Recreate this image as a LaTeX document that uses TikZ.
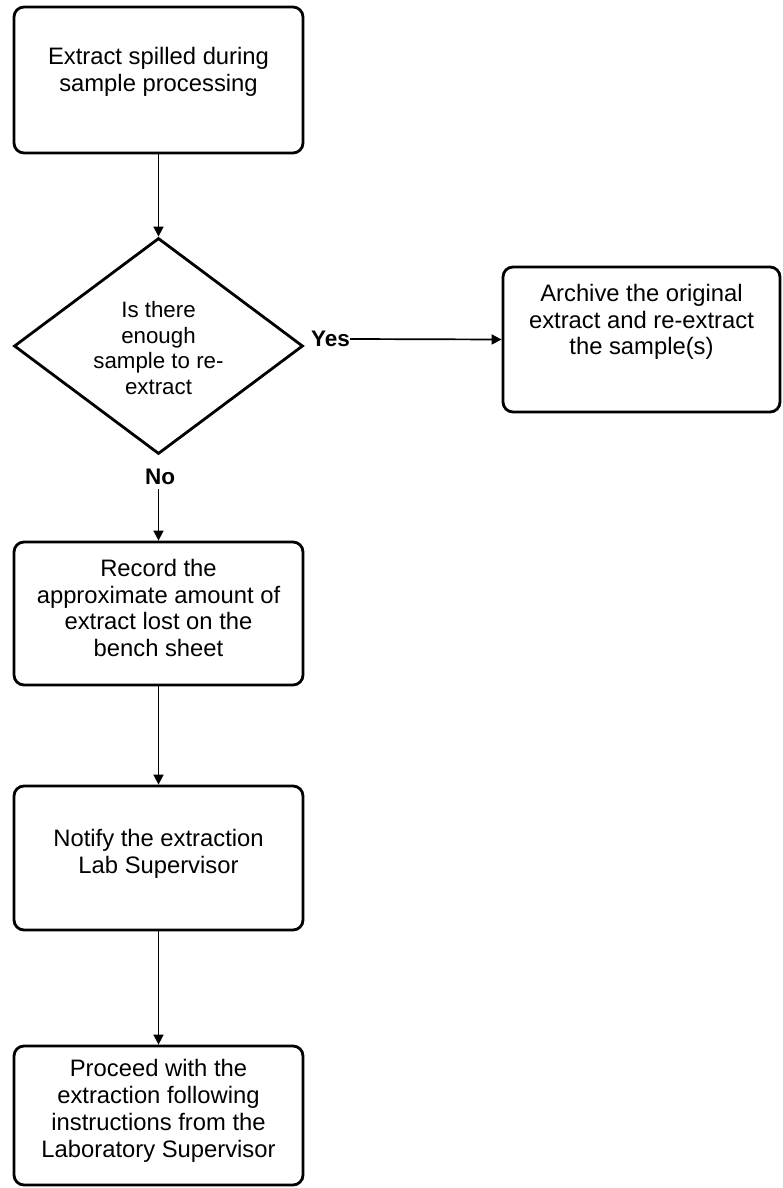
\documentclass[tikz,border=0pt]{standalone}
\usepackage{fontspec}
\setmainfont{Liberation Sans}
\usetikzlibrary{arrows.meta,shapes.geometric}
\begin{document}
\begin{tikzpicture}[x=1pt,y=-1pt,
  stepbox/.style={draw, line width=2.8pt, rounded corners=10pt, inner sep=0pt},
  steptext/.style={align=center, inner sep=0pt, font=\fontsize{23.8}{26.8}\selectfont},
  decision/.style={draw, diamond, line width=2.8pt, inner sep=0pt,
    minimum width=289pt, minimum height=216pt},
  flow/.style={line width=1.7pt, -{Triangle[length=10pt,width=10pt]}},
  answer/.style={font=\fontsize{22.5}{26}\selectfont\bfseries}]

% page frame
\useasboundingbox (0,0) rectangle (782,1188);

% process boxes
\node[stepbox, minimum width=289pt, minimum height=146pt] (spill) at (158.5,80) {};
\node[steptext] (spilltxt) at (158.5,71.5) {Extract spilled during\\sample processing};

\node[decision] (enough) at (158.5,346) {};
\node[steptext, font=\fontsize{22.3}{25.5}\selectfont] (enoughtxt) at (158.5,348)
  {Is there\\enough\\sample to re-\\extract};

\node[stepbox, minimum width=277pt, minimum height=145pt] (archive) at (641.5,339.5) {};
\node[steptext] (archivetxt) at (641.5,322)
  {Archive the original\\extract and re-extract\\the sample(s)};

\node[stepbox, minimum width=289pt, minimum height=143pt] (record) at (158.5,613.5) {};
\node[steptext] (recordtxt) at (158.5,608)
  {Record the\\approximate amount of\\extract lost on the\\bench sheet};

\node[stepbox, minimum width=289pt, minimum height=144pt] (notify) at (158.5,858) {};
\node[steptext] (notifytxt) at (158.5,854)
  {Notify the extraction\\Lab Supervisor};

\node[stepbox, minimum width=289pt, minimum height=139pt] (proceed) at (158.5,1115.5) {};
\node[steptext] (proceedtxt) at (158.5,1111)
  {Proceed with the\\extraction following\\instructions from the\\Laboratory Supervisor};

% branch labels
\node[answer, anchor=west, inner sep=0pt] (yes) at (311,339) {Yes};
\node[answer, inner sep=4pt] (no) at (160,477) {No};

% connectors
\draw[flow] (spill.south) -- (enough.north);
\draw[flow] (yes.east) -- (archive.west);
\draw[flow] (no.south -| record.north) -- (record.north);
\draw[flow] (record.south) -- (notify.north);
\draw[flow] (notify.south) -- (proceed.north);
\end{tikzpicture}
\end{document}
